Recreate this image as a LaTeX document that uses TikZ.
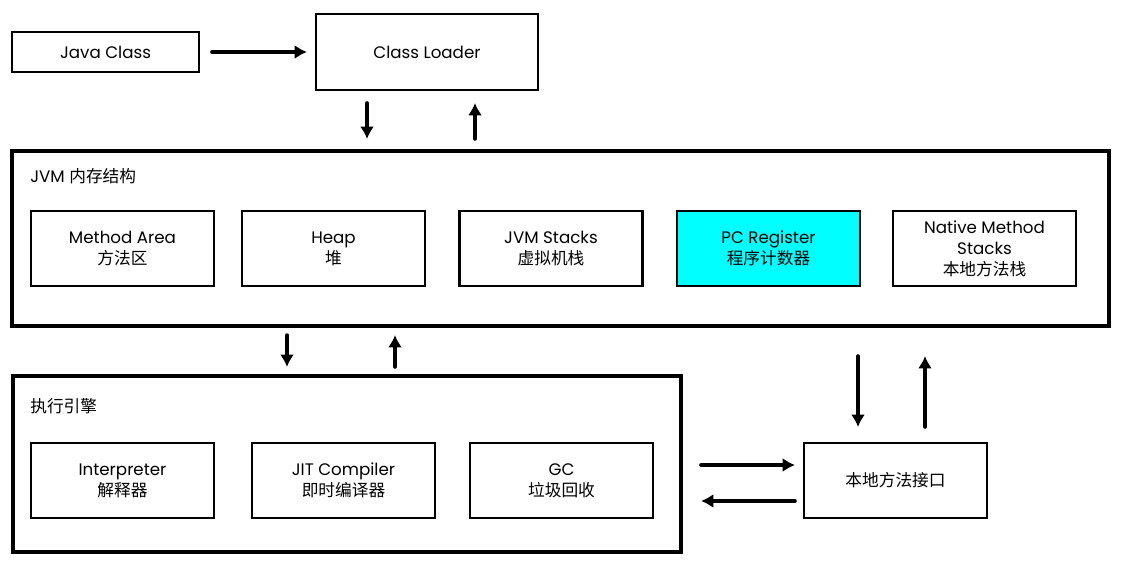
\documentclass[tikz,border=0pt]{standalone}
\usepackage{fontspec}
\setmainfont{Poppins}
\newfontfamily\cjk{Noto Sans CJK SC}
\definecolor{pccyan}{RGB}{0,255,255}
\usetikzlibrary{calc}
\usetikzlibrary{positioning}
\usetikzlibrary{arrows.meta}
\tikzset{
  box/.style={draw, line width=1.2pt, minimum width=3.66cm, minimum height=1.5cm, inner sep=0pt, align=center, font=\fontsize{9.5}{12}\selectfont},
  frame/.style={draw, line width=2.4pt, inner sep=0pt},
  tag/.style={anchor=west, inner sep=0pt, font=\fontsize{9.5}{12}\selectfont},
  arr/.style={-{Latex[length=7pt,width=8pt]}, line width=2.1pt, line cap=round}
}

\begin{document}
\begin{tikzpicture}[x=0.02cm, y=-0.02cm]
  \useasboundingbox (0,0) rectangle (1125,575);

  \node [box, minimum width=3.74cm, minimum height=0.8cm] (java) at (105.5,52) {Java Class};
  \node [box, minimum width=4.44cm, minimum height=1.52cm] (loader) at (427,52) {Class Loader};

  % JVM memory
  \node [frame, minimum width=21.94cm, minimum height=3.5cm] (jvm) at (560.5,238.5) {};
  \node [tag] (jvmtag) at (30,176) {JVM {\cjk 内存结构}};
  \begin{scope}[every node/.style={box}]
    \node (method) at (122.5,248.5) {Method Area\\{\cjk 方法区}};
    \node (heap) at (333.5,248.5) {Heap\\{\cjk 堆}};
    \node (stacks) at (551,248.5) {JVM Stacks\\{\cjk 虚拟机栈}};
    \node [fill=pccyan] (pc) at (768.5,248.5) {PC Register\\{\cjk 程序计数器}};
    \node (nstacks) at (984.5,248.5) {Native Method\\Stacks\\{\cjk 本地方法栈}};
  \end{scope}

  % execution engine
  \node [frame, minimum width=13.36cm, minimum height=3.52cm] (exec) at (347,464) {};
  \node [tag] (exectag) at (30,406) {\cjk 执行引擎};
  \begin{scope}[every node/.style={box}]
    \node (interp) at (122.5,480.5) {Interpreter\\{\cjk 解释器}};
    \node (jit) at (343.5,480.5) {JIT Compiler\\{\cjk 即时编译器}};
    \node (gc) at (561.5,480.5) {GC\\{\cjk 垃圾回收}};
  \end{scope}

  \node [box] (native) at (895.5,480.5) {\cjk 本地方法接口};

  \draw [arr, shorten <=0.24cm, shorten >=0.16cm] (java) -- (loader);

  \draw [arr, shorten <=0.24cm, shorten >=0.2cm] ($(loader.south)+(-60,0)$) -- ($(loader.south |- jvm.north)+(-60,0)$);
  \draw [arr, shorten <=0.2cm, shorten >=0.24cm] ($(loader.south |- jvm.north)+(48,0)$) -- ($(loader.south)+(48,0)$);

  \draw [arr, shorten <=0.14cm, shorten >=0.14cm] ($(exec.north |- jvm.south)+(-60,0)$) -- ($(exec.north)+(-60,0)$);
  \draw [arr, shorten <=0.14cm, shorten >=0.14cm] ($(exec.north)+(48,0)$) -- ($(exec.north |- jvm.south)+(48,0)$);

  \draw [arr, shorten <=0.56cm, shorten >=0.3cm] ($(native.north |- jvm.south)+(-37.5,0)$) -- ($(native.north)+(-37.5,0)$);
  \draw [arr, shorten <=0.3cm, shorten >=0.56cm] ($(native.north)+(29.5,0)$) -- ($(native.north |- jvm.south)+(29.5,0)$);

  \draw [arr, shorten <=0.36cm, shorten >=0.16cm] ($(exec.east |- native.west)+(0,-15.5)$) -- ($(native.west)+(0,-15.5)$);
  \draw [arr, shorten <=0.16cm, shorten >=0.36cm] ($(native.west)+(0,20.5)$) -- ($(exec.east |- native.west)+(0,20.5)$);
\end{tikzpicture}
\end{document}
